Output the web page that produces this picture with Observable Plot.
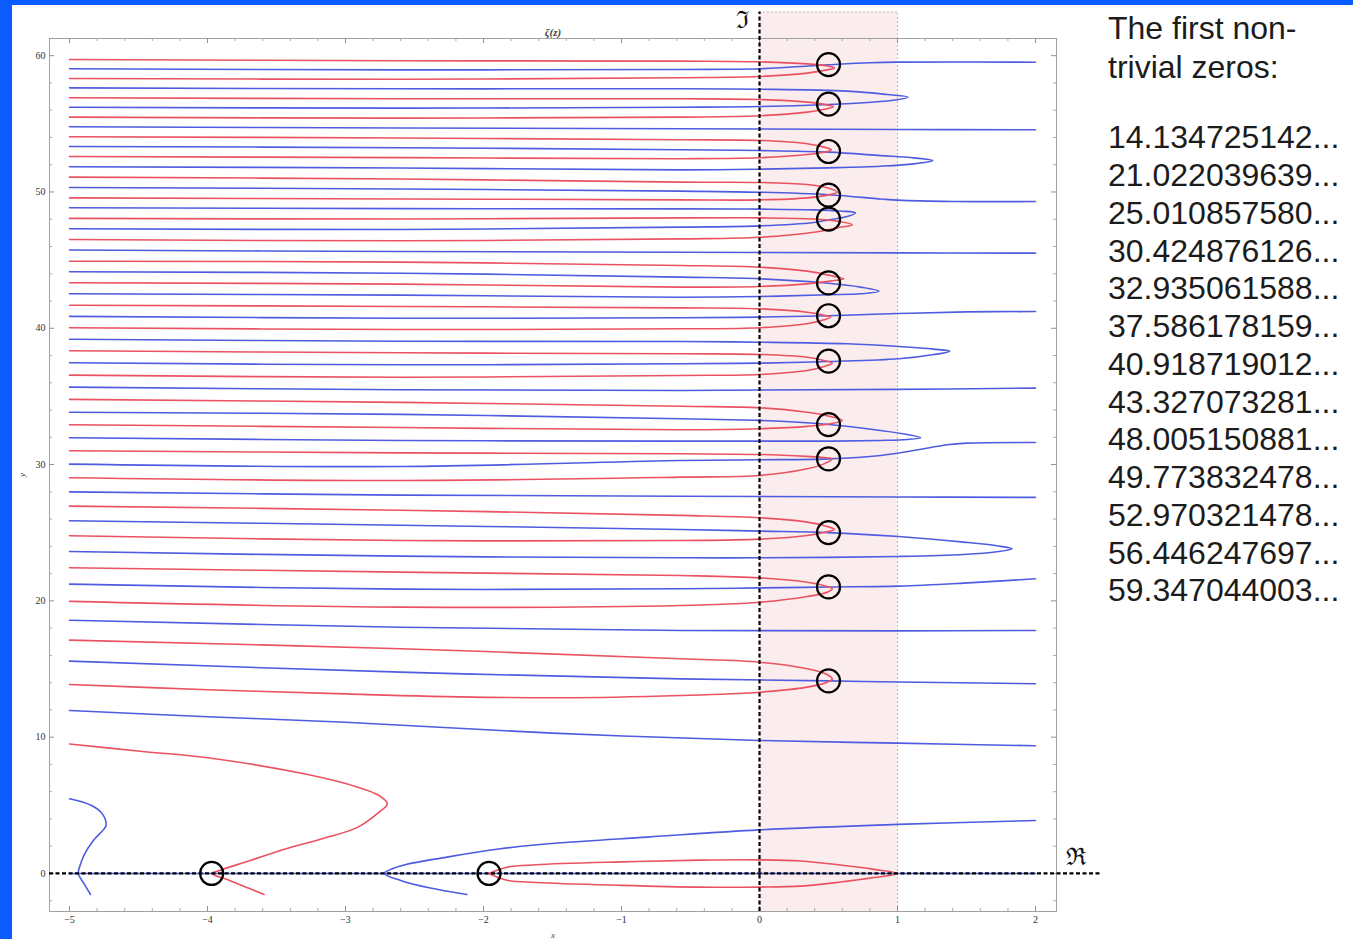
<!DOCTYPE html>
<html>
<head>
<meta charset="utf-8">
<script src="https://cdn.jsdelivr.net/npm/d3@7"></script>
<script src="https://cdn.jsdelivr.net/npm/@observablehq/plot@0.6"></script>
<style>
  body { margin:0; background:#0a5cff; overflow:hidden; width:1353px; height:939px; }
  #sheet { position:absolute; left:12px; top:5px; width:1341px; height:934px; background:#fff; }
  #chart { position:absolute; left:12px; top:5px; }
  .txt { position:absolute; left:1108px; font-family:"Liberation Sans", Arial, Helvetica, sans-serif; font-size:32px; color:#1c1c1c; white-space:pre; }
</style>
</head>
<body>
<div id="sheet"></div>
<div id="chart"></div>
<div id="head" class="txt" style="top:9.4px; line-height:39px;"></div>
<div id="list" class="txt" style="top:119.3px; line-height:37.75px;"></div>
<script>
// ---------- data ----------
const xMajor = [-5, -4, -3, -2, -1, 0, 1, 2];
const yMajor = [0, 10, 20, 30, 40, 50, 60];
const nontrivialZeros = [14.134725142, 21.022039639, 25.010857580, 30.424876126, 32.935061588,
  37.586178159, 40.918719012, 43.327073281, 48.005150881, 49.773832478, 52.970321478,
  56.446247697, 59.347044003];
const criticalLine = 0.5;
const trivialZeros = [-3.97, -1.96];
const headerLines = ["The first non-", "trivial zeros:"];

// Re ζ = 0 contours (red)
const reCurves = [
  [[-5,9.5],[-4.47,8.95],[-4,8.49],[-3.3,7.31],[-2.91,6.33],[-2.757,5.72],[-2.697,5.11],[-2.757,4.5],[-2.91,3.4],[-3.17,2.54],[-3.43,1.81],[-3.69,0.95],[-3.92,0.2],[-3.97,0],[-3.84,-0.51],[-3.59,-1.54]],
  [[-1.96,0],[-1.83,0.46],[-1.62,0.64],[-1.0,0.85],[-0.43,0.98],[0,1.0],[0.3,0.92],[0.587,0.62],[0.83,0.3],[1,0],[0.83,-0.3],[0.587,-0.63],[0.3,-0.93],[0,-1.0],[-0.43,-1.0],[-1.0,-0.87],[-1.62,-0.66],[-1.83,-0.5],[-1.96,0]],
  [[-5,13.87],[-4,13.48],[-3,13.18],[-2.6,13.05],[-1.44,12.89],[-0.57,13.06],[0,13.3],[0.345,13.67],[0.49,14.03],[0.527,14.28],[0.49,14.6],[0.345,15.02],[0,15.5],[-0.57,15.75],[-2.6,16.49],[-5,17.12]],
  [[-5,19.96],[-2.6,19.54],[-0.57,19.66],[0,19.9],[0.345,20.32],[0.49,20.64],[0.527,20.89],[0.49,21.06],[0.345,21.37],[0,21.69],[-0.57,21.86],[-2.6,22.11],[-5,22.43]],
  [[-5,24.78],[-2.6,24.43],[-0.57,24.43],[0,24.53],[0.345,24.8],[0.49,25.07],[0.543,25.24],[0.49,25.46],[0.345,25.78],[0,26.1],[-0.57,26.27],[-2.6,26.65],[-5,26.95]],
  [[-5,29.03],[-2.6,28.83],[-0.57,29.08],[0,29.2],[0.345,29.69],[0.467,30.05],[0.527,30.42],[0.467,30.52],[0.345,30.6],[0,30.74],[-0.57,30.79],[-2.6,30.86],[-5,31.01]],
  [[-5,32.92],[-2.6,32.72],[-0.57,32.55],[0,32.63],[0.345,32.8],[0.514,32.99],[0.599,33.24],[0.514,33.53],[0.345,33.84],[0,34.17],[-0.57,34.28],[-2.6,34.56],[-5,34.78]],
  [[-5,36.56],[-2.6,36.41],[-0.57,36.54],[0,36.61],[0.345,36.9],[0.467,37.2],[0.527,37.44],[0.467,37.64],[0.345,37.88],[0,38.08],[-0.57,38.13],[-2.6,38.2],[-5,38.35]],
  [[-5,40.04],[-2.6,39.91],[-0.57,39.96],[0,40.04],[0.345,40.33],[0.467,40.62],[0.514,40.82],[0.467,40.96],[0.345,41.18],[0,41.43],[-0.57,41.5],[-2.6,41.6],[-5,41.69]],
  [[-5,43.34],[-2.6,43.24],[-0.57,43.02],[0,43.07],[0.345,43.26],[0.514,43.46],[0.611,43.63],[0.514,43.87],[0.345,44.19],[0,44.48],[-0.57,44.61],[-2.6,44.85],[-5,44.92]],
  [[-5,46.51],[-2.6,46.42],[-0.57,46.56],[0,46.68],[0.394,47.05],[0.563,47.37],[0.672,47.6],[0.563,47.86],[0.394,48.02],[0,48.1],[-0.57,48.1],[-2.6,48.02],[-5,48.06]],
  [[-5,49.57],[-2.6,49.49],[-0.57,49.42],[0,49.42],[0.345,49.57],[0.49,49.77],[0.563,49.99],[0.49,50.31],[0.345,50.55],[0,50.7],[-0.57,50.72],[-2.6,50.95],[-5,51.09]],
  [[-5,52.6],[-2.6,52.52],[-0.57,52.44],[0,52.51],[0.345,52.75],[0.467,52.92],[0.52,53.1],[0.467,53.29],[0.345,53.54],[0,53.78],[-0.57,53.83],[-2.6,53.96],[-5,54.05]],
  [[-5,55.49],[-2.6,55.42],[-0.57,55.49],[0,55.59],[0.345,55.86],[0.49,56.1],[0.534,56.27],[0.49,56.39],[0.345,56.59],[0,56.78],[-0.57,56.84],[-2.6,56.84],[-5,56.91]],
  [[-5,58.33],[-2.6,58.27],[-0.57,58.38],[0,58.47],[0.345,58.72],[0.49,58.96],[0.543,59.1],[0.49,59.25],[0.345,59.4],[0,59.55],[-0.57,59.6],[-2.6,59.63],[-5,59.72]]
];

// Im ζ = 0 contours (blue)
const imCurves = [
  [[-5,0],[2,0]],
  [[-4.848,-1.54],[-4.895,-0.75],[-4.936,0],[-4.92,0.7],[-4.89,1.44],[-4.827,2.42],[-4.755,3.2],[-4.735,3.55],[-4.762,4.37],[-4.84,4.99],[-5,5.48]],
  [[-2.12,-1.54],[-2.394,-1.05],[-2.6,-0.51],[-2.718,0],[-2.6,0.55],[-2.265,1.2],[-1.877,1.81],[-1.44,2.25],[-0.81,2.67],[0,3.2],[1,3.6],[2,3.89]],
  [[-5,11.96],[-4,11.5],[-3,11.1],[-1.5,10.3],[0,9.76],[1,9.56],[2,9.37]],
  [[-5,15.58],[-2.6,14.77],[-0.57,14.28],[0.5,14.13],[1,14.05],[2,13.92]],
  [[-5,18.58],[-2.6,18.07],[-0.57,17.83],[1,17.8],[2,17.83]],
  [[-5,21.23],[-2.6,20.86],[-0.57,20.89],[0,20.95],[0.5,21.02],[1.01,21.08],[1.48,21.3],[2,21.62]],
  [[-5,23.62],[-2.6,23.28],[-0.57,23.16],[0,23.16],[1.01,23.26],[1.48,23.4],[1.72,23.6],[1.831,23.82],[1.72,24.04],[1.48,24.31],[1.01,24.72],[0.5,25.01],[0,25.12],[-0.57,25.24],[-2.6,25.55],[-5,25.88]],
  [[-5,28.0],[-2.6,27.76],[-0.57,27.68],[1,27.62],[2,27.59]],
  [[-5,30.03],[-2.6,29.86],[-0.57,30.3],[0,30.35],[0.5,30.42],[0.877,30.67],[1.118,31.03],[1.36,31.45],[1.5,31.57],[2,31.62]],
  [[-5,31.97],[-2.6,31.77],[-0.57,31.72],[0,31.72],[0.5,31.72],[0.877,31.77],[1.07,31.84],[1.167,31.97],[1.07,32.21],[0.877,32.5],[0.5,32.94],[0,33.24],[-0.57,33.36],[-2.6,33.68],[-5,33.84]],
  [[-5,35.68],[-2.6,35.49],[-0.57,35.44],[1,35.52],[2,35.61]],
  [[-5,37.47],[-2.6,37.32],[-0.57,37.4],[0,37.44],[0.5,37.56],[1.01,37.76],[1.263,38.07],[1.379,38.32],[1.263,38.47],[1.01,38.66],[0.635,38.86],[0,38.98],[-0.57,39.03],[-2.6,39.05],[-5,39.2]],
  [[-5,40.87],[-2.6,40.74],[-0.57,40.77],[0,40.82],[0.5,40.92],[1,41.08],[1.5,41.2],[2,41.23]],
  [[-5,42.53],[-2.6,42.43],[-0.57,42.28],[0,42.33],[0.5,42.46],[0.732,42.53],[0.865,42.72],[0.732,43.02],[0.5,43.3],[0,43.63],[-0.57,43.75],[-2.6,44.04],[-5,44.15]],
  [[-5,45.74],[-2.6,45.63],[-0.57,45.58],[1,45.53],[2,45.51]],
  [[-5,47.3],[-2.6,47.25],[-0.57,47.42],[0,47.51],[0.394,47.76],[0.5,47.95],[0.635,48.2],[0.696,48.47],[0.587,48.6],[0.394,48.69],[0,48.74],[-0.57,48.76],[-2.6,48.78],[-5,48.84]],
  [[-5,50.33],[-2.6,50.22],[-0.57,50.06],[0,49.98],[0.5,49.8],[0.877,49.49],[1.0,49.4],[1.4,49.3],[2,49.3]],
  [[-5,51.85],[-2.6,51.76],[-0.57,51.62],[0,51.67],[0.5,51.77],[0.877,51.89],[1.118,52.06],[1.256,52.31],[1.118,52.5],[0.877,52.67],[0.5,52.92],[0,53.04],[-0.57,53.1],[-2.6,53.25],[-5,53.34]],
  [[-5,54.78],[-2.6,54.69],[-0.57,54.64],[1,54.58],[2,54.56]],
  [[-5,56.22],[-2.6,56.15],[-0.57,56.22],[0,56.27],[0.5,56.42],[0.78,56.56],[0.998,56.76],[1.077,56.96],[0.925,57.15],[0.635,57.4],[0,57.54],[-0.57,57.57],[-2.6,57.57],[-5,57.64]],
  [[-5,59.04],[-2.6,58.96],[-0.57,58.99],[0,59.04],[0.5,59.33],[0.8,59.48],[1,59.53],[2,59.52]]
];

// annotation symbols on the axes
const axisSymbols = [
  {x: -0.123, y: 62.58, text: "\u2111"},
  {x: 2.29, y: 1.17, text: "\u211C"}
];

// ---------- layout ----------
const W = 1341, H = 934, ML = 37, MR = 297, MT = 33, MB = 28;
const FW = W - ML - MR, FH = H - MT - MB;
const xDom = [-5.145, 2.152], yDom = [-2.79, 61.26];
const stripTop = 63.2, realAxisEnd = 2.47;
const RED = "#ea5261", BLUE = "#4f5ce0";

const toRows = (curves, tag) => curves.flatMap((c, i) => c.map(([x, y]) => ({x, y, id: tag + i})));
const reRows = toRows(reCurves, "r");
const imRows = toRows(imCurves, "b");

const xMinor = d3.range(-5, 2.01, 0.2).filter(d => Math.abs(d - Math.round(d)) > 1e-6);
const yMinor = d3.range(-2, 61, 2).filter(d => d % 10 !== 0);

const zeroPts = nontrivialZeros.map(t => ({x: criticalLine, y: t}))
  .concat(trivialZeros.map(s => ({x: s, y: 0})));

const chart = Plot.plot({
  width: W, height: H,
  marginLeft: ML, marginRight: MR, marginTop: MT, marginBottom: MB,
  x: {domain: xDom},
  y: {domain: yDom},
  style: {background: "transparent", color: "#333", fontFamily: "'Liberation Serif','DejaVu Serif',serif", fontSize: "10px", overflow: "visible"},
  marks: [
    // critical strip
    Plot.rect([{x1: 0, x2: 1, y1: yDom[0], y2: stripTop}], {x1: "x1", x2: "x2", y1: "y1", y2: "y2", fill: "#fbeded"}),
    Plot.ruleX([{x: 1, y1: yDom[0], y2: stripTop}], {x: "x", y1: "y1", y2: "y2", stroke: "#b8b8b8", strokeDasharray: "2,2"}),
    Plot.ruleY([{y: stripTop, x1: 0, x2: 1}], {y: "y", x1: "x1", x2: "x2", stroke: "#b8b8b8", strokeDasharray: "2,2"}),
    // frame and inside ticks
    Plot.frame({stroke: "#a0a0a0"}),
    Plot.tickX(xMajor, {x: d => d, insetTop: FH - 5, stroke: "#909090"}),
    Plot.tickX(xMajor, {x: d => d, insetBottom: FH - 5, stroke: "#909090"}),
    Plot.tickX(xMinor, {x: d => d, insetTop: FH - 3, stroke: "#a8a8a8"}),
    Plot.tickX(xMinor, {x: d => d, insetBottom: FH - 3, stroke: "#a8a8a8"}),
    Plot.tickY(yMajor, {y: d => d, insetRight: FW - 5, stroke: "#909090"}),
    Plot.tickY(yMajor, {y: d => d, insetLeft: FW - 5, stroke: "#909090"}),
    Plot.tickY(yMinor, {y: d => d, insetRight: FW - 3, stroke: "#a8a8a8"}),
    Plot.tickY(yMinor, {y: d => d, insetLeft: FW - 3, stroke: "#a8a8a8"}),
    Plot.axisX({ticks: xMajor, anchor: "bottom", tickSize: 0, tickPadding: 4, label: null, fontSize: 10}),
    Plot.axisY({ticks: yMajor, anchor: "left", tickSize: 0, tickPadding: 4, label: null, fontSize: 10}),
    // contour lines
    Plot.line(imRows, {x: "x", y: "y", z: "id", stroke: BLUE, strokeWidth: 1.6, curve: "catmull-rom"}),
    Plot.line(reRows, {x: "x", y: "y", z: "id", stroke: RED, strokeWidth: 1.6, curve: "catmull-rom"}),
    // axes of the complex plane
    Plot.ruleY([{y: 0, x1: xDom[0], x2: realAxisEnd}], {y: "y", x1: "x1", x2: "x2", stroke: "#000", strokeWidth: 2.2, strokeDasharray: "4,2.5"}),
    Plot.ruleX([{x: 0, y1: yDom[0], y2: stripTop}], {x: "x", y1: "y1", y2: "y2", stroke: "#000", strokeWidth: 2.2, strokeDasharray: "4,2.5"}),
    // zeros
    Plot.dot(zeroPts, {x: "x", y: "y", r: 11.5, stroke: "#000", strokeWidth: 2.2, fill: "none"}),
    // labels
    Plot.text(axisSymbols, {x: "x", y: "y", text: "text", fontSize: 24, fill: "#111", fontFamily: "'DejaVu Serif', serif"}),
    Plot.text(["\u03B6(z)"], {text: d => d, frameAnchor: "top", dy: -6, lineAnchor: "middle", fontStyle: "italic", fontWeight: "bold", fontSize: 11, fill: "#444"}),
    Plot.text(["x"], {text: d => d, frameAnchor: "bottom", dy: 24, lineAnchor: "middle", fontStyle: "italic", fontSize: 9, fill: "#444"}),
    Plot.text(["y"], {text: d => d, frameAnchor: "left", dx: -27, rotate: -90, textAnchor: "middle", lineAnchor: "middle", fontStyle: "italic", fontSize: 9, fill: "#444"})
  ]
});
document.getElementById("chart").appendChild(chart);

document.getElementById("head").textContent = headerLines.join("\n");
document.getElementById("list").textContent = nontrivialZeros.map(t => t.toFixed(9) + "...").join("\n");
</script>
</body>
</html>
